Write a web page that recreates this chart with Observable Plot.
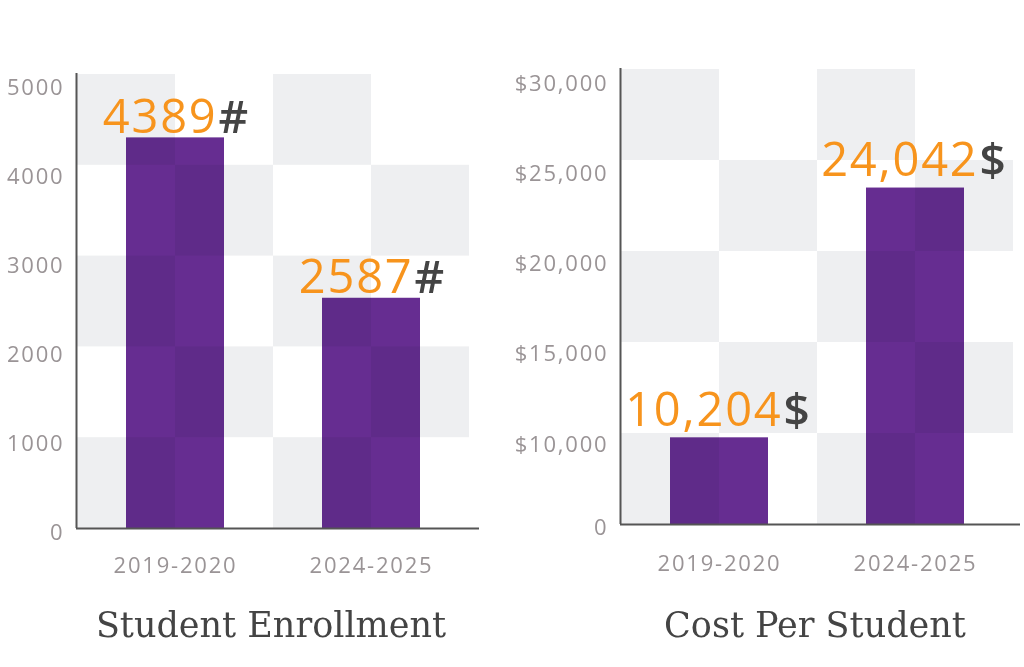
<!DOCTYPE html>
<html>
<head>
<meta charset="utf-8">
<script src="https://cdn.jsdelivr.net/npm/d3@7"></script>
<script src="https://cdn.jsdelivr.net/npm/@observablehq/plot@0.6"></script>
<style>
  html, body { margin: 0; padding: 0; background: #ffffff; overflow: hidden; }
  #wrap { position: relative; width: 1024px; height: 667px; background: #ffffff; }
  .panel { position: absolute; top: 0; }
  .title { position: absolute; top: 607px; width: 500px; text-align: center;
           font-family: "DejaVu Serif", serif; font-size: 35px; line-height: 36px; color: #444444; }
</style>
</head>
<body>
<div id="wrap">
  <div class="panel" id="left" style="left:0px"></div>
  <div class="panel" id="right" style="left:490px"></div>
  <div class="title" id="t0" style="left:21px"></div>
  <div class="title" id="t1" style="left:565px"></div>
</div>
<script>
// ---- data ----
const categories = ["2019-2020", "2024-2025"];
const enrollment = [4389, 2587];
const costPerStudent = [10204, 24042];
const enrollmentTicks = [0, 1000, 2000, 3000, 4000, 5000];
const costTicks = [0, 10000, 15000, 20000, 25000, 30000];
const titles = ["Student Enrollment", "Cost Per Student"];
const units = ["#", "$"];

const ORANGE = "#f7941d", PURPLE = "#662d91", GRAY = "#eeeff1", AXIS = "#555555",
      TICK = "#9a9496", DARK = "#444444", FONT = "'Open Sans', sans-serif";

function panel(o) {
  const rows = categories.map((c, i) => ({category: c, value: o.values[i], slot: 2 * i + 1}));
  // piecewise value -> height-above-baseline transform (axis break below the first labelled tick)
  const T = d3.scaleLinear(o.breaks, o.heights);
  const frameH = o.frameBottom - o.frameTop;
  // checkerboard background: 5 equal rows x 4 columns filling the frame
  const edges = d3.range(6).map(k => T.invert(k * frameH / 5));
  const cells = [];
  for (let r = 0; r < 5; r++) for (let c = 0; c < 4; c++)
    if ((r + c) % 2 === 0) cells.push({x1: c, x2: c + 1, y1: edges[r], y2: edges[r + 1]});

  return Plot.plot({
    width: o.width, height: o.height,
    marginLeft: o.marginLeft, marginRight: o.marginRight,
    marginTop: o.frameTop - 1, marginBottom: o.height - o.frameBottom,
    x: {domain: [0, 4], range: o.xRange, axis: null},
    y: {transform: v => T(v), range: [o.frameBottom, o.frameTop], axis: null},
    style: {fontFamily: FONT, fontSize: "22px", color: TICK, background: "white",
            overflow: "visible", letterSpacing: "1.8px"},
    marks: [
      Plot.rect(cells, {x1: "x1", x2: "x2", y1: "y1", y2: "y2", fill: GRAY}),
      Plot.rectY(rows, {x1: d => d.slot - 0.5, x2: d => d.slot + 0.5, y: "value",
                        fill: PURPLE, mixBlendMode: "multiply"}),
      Plot.ruleX([0], {stroke: AXIS, strokeWidth: 2, dx: -1}),
      Plot.ruleY([0], {stroke: AXIS, strokeWidth: 2}),
      Plot.text(rows, {x: "slot", y: "value", text: d => o.valueFormat(d.value),
                       textAnchor: "end", lineAnchor: "bottom", dx: o.labelDx + 1, dy: o.labelDy,
                       fill: ORANGE, fontSize: 47, fontFamily: FONT}),
      Plot.text(rows, {x: "slot", y: "value", text: () => o.unit,
                       textAnchor: "start", lineAnchor: "bottom", dx: o.labelDx + 2, dy: o.labelDy,
                       fill: DARK, fontSize: 46, fontFamily: FONT, fontWeight: 600}),
      Plot.axisX({ticks: [1, 3], tickFormat: v => categories[(v - 1) / 2], tickSize: 0,
                  tickPadding: o.xTickPadding, fill: TICK, fontSize: 22, fontFamily: FONT}),
      // y tick labels: the axis takes tick positions in transformed units
      Plot.axisY({ticks: o.ticks.map(t => T(t)),
                  tickFormat: v => o.tickFormat(Math.round(T.invert(v))),
                  tickSize: 0, tickPadding: 12,
                  dy: o.yDy, fill: TICK, fontSize: 22, fontFamily: FONT})
    ]
  });
}

const left = panel({
  values: enrollment, ticks: enrollmentTicks, tickFormat: d => String(d),
  valueFormat: d => String(d), unit: units[0],
  breaks: [0, 5000], heights: [0, 445], frameTop: 74, frameBottom: 528,
  width: 490, height: 600, marginLeft: 76, marginRight: 11, xRange: [77, 469],
  labelDx: 41, labelDy: -5, xTickPadding: 29, yDy: 4
});
document.getElementById("left").appendChild(left);

const right = panel({
  values: costPerStudent, ticks: costTicks,
  tickFormat: d => d === 0 ? "0" : "$" + d3.format(",")(d),
  valueFormat: d => d3.format(",")(d), unit: units[1],
  breaks: [0, 10000, 30000], heights: [0, 83, 444], frameTop: 69, frameBottom: 524,
  width: 534, height: 600, marginLeft: 130, marginRight: 4, xRange: [131, 523],
  labelDx: 62, labelDy: -12, xTickPadding: 31, yDy: 3
});
document.getElementById("right").appendChild(right);

document.getElementById("t0").textContent = titles[0];
document.getElementById("t1").textContent = titles[1];
</script>
</body>
</html>
